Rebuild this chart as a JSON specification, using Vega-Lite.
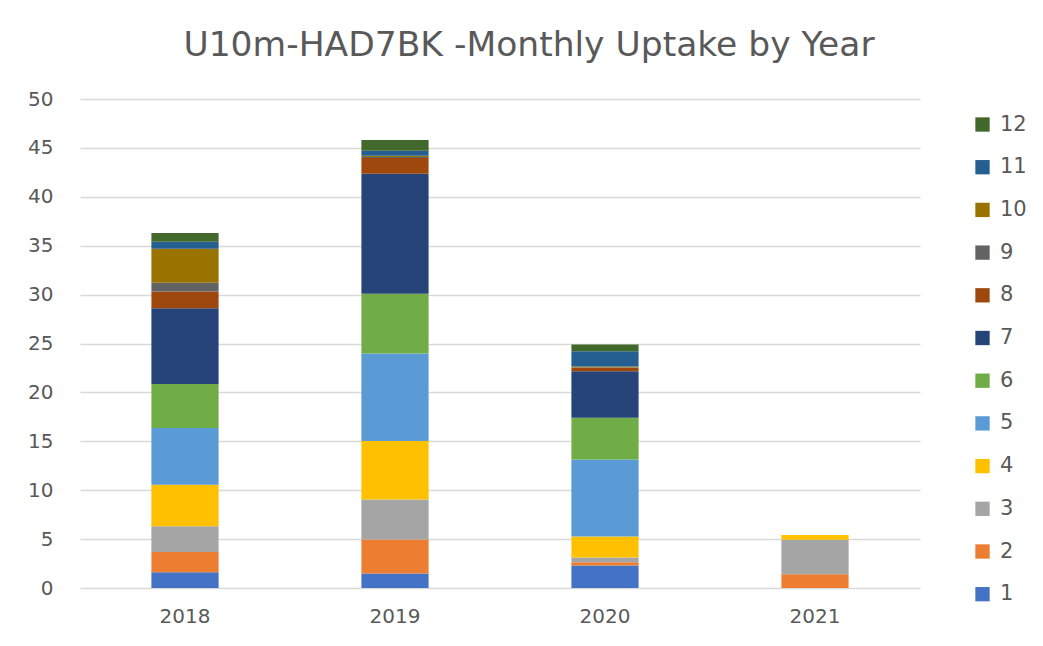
{
  "$schema": "https://vega.github.io/schema/vega-lite/v6.json",
  "width": 840,
  "height": 489,
  "autosize": {"type": "none"},
  "padding": {"left": 80, "top": 99, "right": 123, "bottom": 58},
  "background": "white",
  "title": {
    "text": "U10m-HAD7BK -Monthly Uptake by Year",
    "anchor": "middle",
    "dx": 29,
    "offset": 26,
    "font": "DejaVu Sans",
    "fontSize": 34.5,
    "fontWeight": "normal",
    "color": "#595959"
  },
  "data": {
    "values": [
      {"year": "2018", "month": 1, "value": 1.6},
      {"year": "2018", "month": 2, "value": 2.09},
      {"year": "2018", "month": 3, "value": 2.63},
      {"year": "2018", "month": 4, "value": 4.23},
      {"year": "2018", "month": 5, "value": 5.8},
      {"year": "2018", "month": 6, "value": 4.51},
      {"year": "2018", "month": 7, "value": 7.75},
      {"year": "2018", "month": 8, "value": 1.71},
      {"year": "2018", "month": 9, "value": 0.88},
      {"year": "2018", "month": 10, "value": 3.49},
      {"year": "2018", "month": 11, "value": 0.71},
      {"year": "2018", "month": 12, "value": 0.89},
      {"year": "2019", "month": 1, "value": 1.47},
      {"year": "2019", "month": 2, "value": 3.48},
      {"year": "2019", "month": 3, "value": 4.1},
      {"year": "2019", "month": 4, "value": 5.97},
      {"year": "2019", "month": 5, "value": 8.95},
      {"year": "2019", "month": 6, "value": 6.11},
      {"year": "2019", "month": 7, "value": 12.27},
      {"year": "2019", "month": 8, "value": 1.63},
      {"year": "2019", "month": 9, "value": 0.1},
      {"year": "2019", "month": 10, "value": 0.12},
      {"year": "2019", "month": 11, "value": 0.5},
      {"year": "2019", "month": 12, "value": 1.1},
      {"year": "2020", "month": 1, "value": 2.3},
      {"year": "2020", "month": 2, "value": 0.34},
      {"year": "2020", "month": 3, "value": 0.48},
      {"year": "2020", "month": 4, "value": 2.15},
      {"year": "2020", "month": 5, "value": 7.88},
      {"year": "2020", "month": 6, "value": 4.25},
      {"year": "2020", "month": 7, "value": 4.75},
      {"year": "2020", "month": 8, "value": 0.35},
      {"year": "2020", "month": 9, "value": 0.05},
      {"year": "2020", "month": 10, "value": 0.1},
      {"year": "2020", "month": 11, "value": 1.55},
      {"year": "2020", "month": 12, "value": 0.7},
      {"year": "2021", "month": 2, "value": 1.4},
      {"year": "2021", "month": 3, "value": 3.53},
      {"year": "2021", "month": 4, "value": 0.48}
    ]
  },
  "mark": {"type": "bar"},
  "encoding": {
    "x": {
      "field": "year",
      "type": "nominal",
      "scale": {"paddingInner": 0.68, "paddingOuter": 0.34},
      "axis": {
        "title": null,
        "labelAngle": 0,
        "ticks": false,
        "domain": false,
        "labelPadding": 18,
        "labelFont": "DejaVu Sans",
        "labelFontSize": 20,
        "labelColor": "#595959"
      }
    },
    "y": {
      "field": "value",
      "type": "quantitative",
      "aggregate": "sum",
      "stack": "zero",
      "scale": {"domain": [0, 50], "nice": false},
      "axis": {
        "title": null,
        "values": [0, 5, 10, 15, 20, 25, 30, 35, 40, 45, 50],
        "ticks": false,
        "domain": false,
        "labelPadding": 27,
        "labelFont": "DejaVu Sans",
        "labelFontSize": 20,
        "labelColor": "#595959",
        "gridColor": "#d9d9d9",
        "gridWidth": 1.5
      }
    },
    "color": {
      "field": "month",
      "type": "ordinal",
      "scale": {
        "domain": [12, 11, 10, 9, 8, 7, 6, 5, 4, 3, 2, 1],
        "range": ["#43682B", "#255E91", "#997300", "#636363", "#9E480E", "#264478", "#70AD47", "#5B9BD5", "#FFC000", "#A5A5A5", "#ED7D31", "#4472C4"]
      },
      "legend": {
        "title": null,
        "orient": "none",
        "legendX": 892,
        "legendY": 15,
        "padding": 0,
        "symbolType": "square",
        "symbolSize": 205,
        "symbolStrokeWidth": 0,
        "labelFont": "DejaVu Sans",
        "labelFontSize": 21,
        "labelColor": "#595959",
        "labelOffset": 7,
        "rowPadding": 20.7
      }
    },
    "order": {"field": "month", "type": "quantitative", "sort": "ascending"}
  },
  "config": {
    "view": {"stroke": null}
  }
}
